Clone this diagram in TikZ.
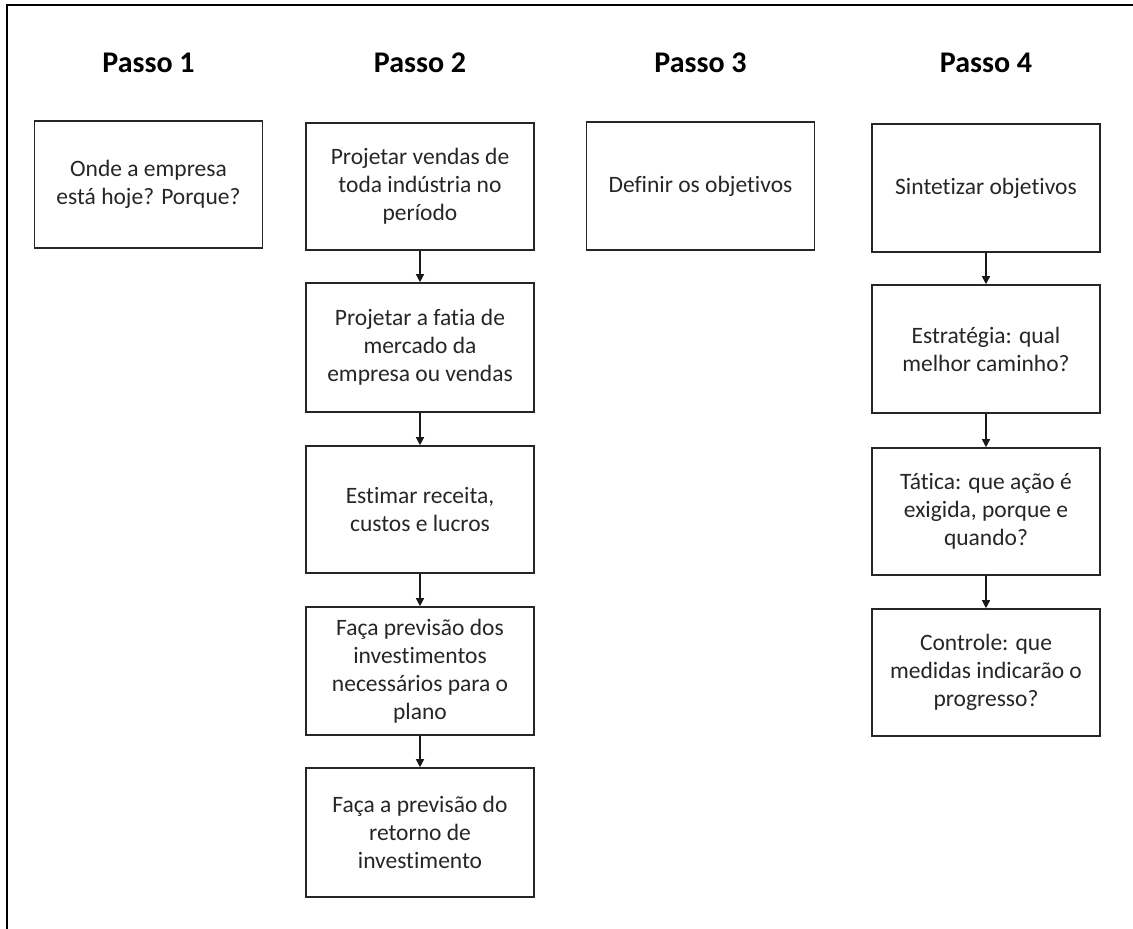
\documentclass[tikz,border=0pt]{standalone}
\usepackage{fontspec}
\setmainfont{Carlito}[Ligatures={NoCommon}]
\usetikzlibrary{arrows.meta}
\begin{document}
\begin{tikzpicture}[x=1pt,y=-1pt,
  stepbox/.style={draw=black!85, line width=1.6pt, rectangle, inner sep=0pt,
    minimum width=228pt, align=center, text=black!85,
    font=\fontsize{23.5}{28}\selectfont},
  header/.style={anchor=base, font=\fontsize{30}{36}\selectfont\bfseries},
  flow/.style={line width=1.3pt, draw=black!90,
    -{Triangle[width=8pt,length=8pt]}}]
  \useasboundingbox (0,0) rectangle (1133,929);
  % outer frame (top and left edges)
  \draw[line width=2pt] (7,929) -- (7,5) -- (1133,5);

  % column headings
  \node[header] (h1) at (148.5,72) {Passo 1};
  \node[header] (h2) at (420,72) {Passo 2};
  \node[header] (h3) at (700.5,72) {Passo 3};
  \node[header] (h4) at (986,72) {Passo 4};

  % Passo 1
  \node[stepbox, minimum height=127pt] (p1) at (148.5,184.5)
    {Onde a empresa\\está hoje? Porque?};

  % Passo 2
  \node[stepbox, minimum height=127pt] (p2a) at (420,186.5)
    {Projetar vendas de\\toda indústria no\\período};
  \node[stepbox, minimum height=129pt] (p2b) at (420,347.5)
    {Projetar a fatia de\\mercado da\\empresa ou vendas};
  \node[stepbox, minimum height=127pt] (p2c) at (420,509.5)
    {Estimar receita,\\custos e lucros};
  \node[stepbox, minimum height=128pt] (p2d) at (420,671)
    {Faça previsão dos\\investimentos\\necessários para o\\plano};
  \node[stepbox, minimum height=129pt] (p2e) at (420,832.5)
    {Faça a previsão do\\retorno de\\investimento};

  % Passo 3
  \node[stepbox, minimum height=128pt] (p3) at (700.5,186)
    {Definir os objetivos};

  % Passo 4
  \node[stepbox, minimum height=128pt] (p4a) at (986,188)
    {Sintetizar objetivos};
  \node[stepbox, minimum height=128pt] (p4b) at (986,349)
    {Estratégia: qual\\melhor caminho?};
  \node[stepbox, minimum height=127pt] (p4c) at (986,511.5)
    {Tática: que ação é\\exigida, porque e\\quando?};
  \node[stepbox, minimum height=127pt] (p4d) at (986,672.5)
    {Controle: que\\medidas indicarão o\\progresso?};

  % connectors
  \draw[flow] (p2a) -- (p2b);
  \draw[flow] (p2b) -- (p2c);
  \draw[flow] (p2c) -- (p2d);
  \draw[flow] (p2d) -- (p2e);
  \draw[flow] (p4a) -- (p4b);
  \draw[flow] (p4b) -- (p4c);
  \draw[flow] (p4c) -- (p4d);
\end{tikzpicture}
\end{document}
